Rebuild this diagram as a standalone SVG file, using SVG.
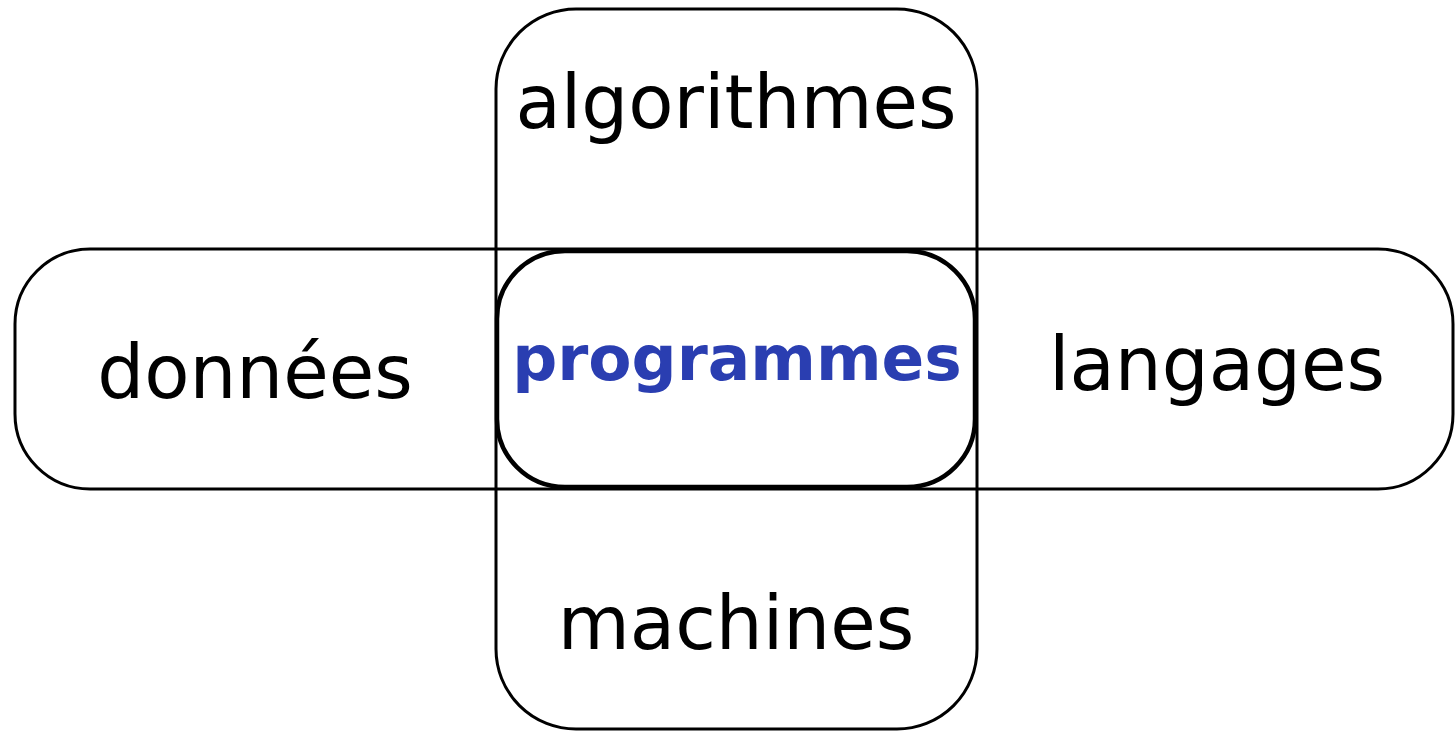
<svg xmlns="http://www.w3.org/2000/svg" width="1456" height="732" viewBox="0 0 1456 732">
  <style>
    .box { fill: none; stroke: #000; stroke-width: 3; }
    .core { fill: #fff; stroke: #000; stroke-width: 4.5; }
    .lbl { font-family: "DejaVu Sans", sans-serif; font-size: 74px; fill: #000; text-anchor: middle; }
    .main { font-family: "DejaVu Sans", sans-serif; font-size: 63px; font-weight: bold; fill: #2a3eb1; text-anchor: middle; }
  </style>
  <rect width="1456" height="732" fill="#fff"/>
  <g id="donnees-langages">
    <rect class="box" x="15" y="249" width="1438" height="240" rx="75" ry="75"/>
  </g>
  <g id="algorithmes-machines">
    <rect class="box" x="496" y="9" width="481" height="720" rx="80" ry="80"/>
  </g>
  <g id="programmes">
    <rect class="core" x="497" y="251" width="478" height="236" rx="68" ry="68"/>
    <text class="main" x="737" y="380">programmes</text>
  </g>
  <g id="algorithmes">
    <text class="lbl" x="736" y="128">algorithmes</text>
  </g>
  <g id="donnees">
    <text class="lbl" x="255" y="398">données</text>
  </g>
  <g id="langages">
    <text class="lbl" x="1217" y="390">langages</text>
  </g>
  <g id="machines">
    <text class="lbl" x="736" y="649">machines</text>
  </g>
  <g id="connectors"/>
</svg>
